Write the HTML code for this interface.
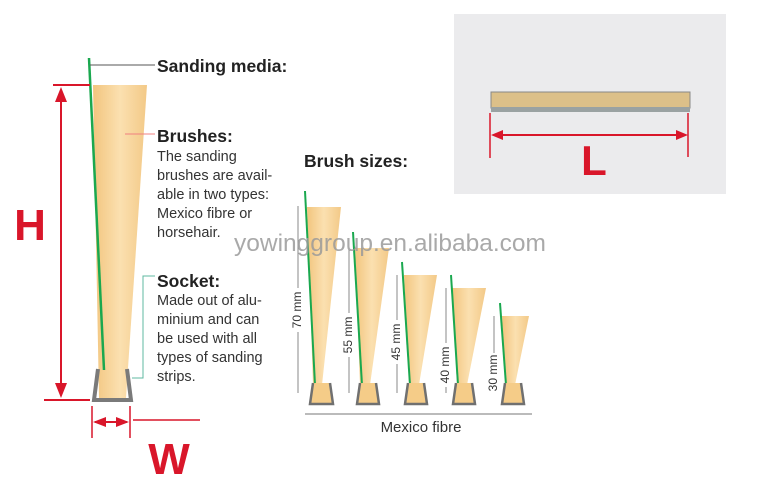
<!DOCTYPE html>
<html><head><meta charset="utf-8"><style>
html,body{margin:0;padding:0;background:#fff;}
svg{display:block;font-family:"Liberation Sans",sans-serif;}
</style></head><body>
<svg width="779" height="488" viewBox="0 0 779 488" xmlns="http://www.w3.org/2000/svg">
<defs>
<linearGradient id="br" x1="0" x2="1" y1="0" y2="0">
<stop offset="0" stop-color="#f2c57e"/><stop offset="0.5" stop-color="#fbe0b0"/><stop offset="1" stop-color="#f3c987"/>
</linearGradient>
</defs>
<!-- photo -->
<rect x="454" y="14" width="272" height="180" fill="#ebebed"/>
<rect x="491" y="92" width="199" height="16" fill="#dcc089" stroke="#888" stroke-width="1"/>
<rect x="491" y="107" width="199" height="5" fill="#9aa2a2"/>
<line x1="490" y1="113" x2="490" y2="158" stroke="#d9162a" stroke-width="1.5"/>
<line x1="688" y1="113" x2="688" y2="157" stroke="#d9162a" stroke-width="1.5"/>
<line x1="500" y1="135" x2="680" y2="135" stroke="#d9162a" stroke-width="2"/>
<path d="M491,135 l12,-5 v10 z M688,135 l-12,-5 v10 z" fill="#d9162a"/>
<text x="594" y="175" font-size="42" font-weight="bold" fill="#d9162a" text-anchor="middle">L</text>

<!-- main brush -->
<polygon points="93,85 147,85 126,398 99,398" fill="url(#br)"/>
<line x1="89" y1="58" x2="104" y2="370" stroke="#1aa84f" stroke-width="2.5"/>
<path d="M98,369 L94,400 L131,400 L127,369" fill="none" stroke="#7a7a7a" stroke-width="4"/>
<!-- H -->
<line x1="53" y1="85" x2="90" y2="85" stroke="#d9162a" stroke-width="2"/>
<line x1="44" y1="400" x2="90" y2="400" stroke="#d9162a" stroke-width="2"/>
<line x1="61" y1="92" x2="61" y2="393" stroke="#d9162a" stroke-width="2"/>
<path d="M61,87 l-6,15 h12 z M61,398 l-6,-15 h12 z" fill="#d9162a"/>
<text x="30" y="240" font-size="44" font-weight="bold" fill="#d9162a" text-anchor="middle">H</text>
<!-- W -->
<line x1="92" y1="406" x2="92" y2="438" stroke="#d9162a" stroke-width="1.5"/>
<line x1="130" y1="406" x2="130" y2="438" stroke="#d9162a" stroke-width="1.5"/>
<line x1="133" y1="420" x2="200" y2="420" stroke="#d9162a" stroke-width="1.5"/>
<line x1="95" y1="422" x2="127" y2="422" stroke="#d9162a" stroke-width="2"/>
<path d="M93,422 l13,-5 v10 z M129,422 l-13,-5 v10 z" fill="#d9162a"/>
<text x="169" y="474" font-size="44" font-weight="bold" fill="#d9162a" text-anchor="middle">W</text>

<!-- labels -->
<line x1="90" y1="65" x2="155" y2="65" stroke="#555" stroke-width="1"/>
<text x="157" y="72" font-size="17.5" font-weight="bold" fill="#222">Sanding media:</text>
<line x1="125" y1="134" x2="155" y2="134" stroke="#f08080" stroke-width="1"/>
<text x="157" y="142" font-size="17.5" font-weight="bold" fill="#222">Brushes:</text>
<g font-size="14.5" fill="#333">
<text x="157" y="161">The sanding</text>
<text x="157" y="180">brushes are avail-</text>
<text x="157" y="199">able in two types:</text>
<text x="157" y="218">Mexico fibre or</text>
<text x="157" y="237">horsehair.</text>
</g>
<polyline points="155,276 143,276 143,378 132,378" fill="none" stroke="#5fb8a0" stroke-width="1"/>
<text x="157" y="287" font-size="17.5" font-weight="bold" fill="#222">Socket:</text>
<g font-size="14.5" fill="#333">
<text x="157" y="305">Made out of alu-</text>
<text x="157" y="324">minium and can</text>
<text x="157" y="343">be used with all</text>
<text x="157" y="362">types of sanding</text>
<text x="157" y="381">strips.</text>
</g>

<text x="304" y="167" font-size="17.5" font-weight="bold" fill="#222">Brush sizes:</text>

<!-- mini brushes -->
<g>
<polygon points="307,207 341,207 322,385 313,385" fill="url(#br)"/>
<line x1="305" y1="191" x2="315" y2="385" stroke="#1aa84f" stroke-width="2"/>
<path d="M313,383 L310,404 L333,404 L330,383" fill="#f5cc88" stroke="#707070" stroke-width="2.5"/>
<line x1="298" y1="206" x2="298" y2="288" stroke="#888"/><line x1="298" y1="332" x2="298" y2="393" stroke="#888"/>
<text transform="translate(297,310) rotate(-90)" font-size="12" fill="#333" text-anchor="middle" dy="4">70 mm</text>

<polygon points="355,248 389,248 370,385 360,385" fill="url(#br)"/>
<line x1="353" y1="232" x2="362" y2="385" stroke="#1aa84f" stroke-width="2"/>
<path d="M360,383 L357,404 L379,404 L376,383" fill="#f5cc88" stroke="#707070" stroke-width="2.5"/>
<line x1="349" y1="250" x2="349" y2="313" stroke="#888"/><line x1="349" y1="357" x2="349" y2="393" stroke="#888"/>
<text transform="translate(348,335) rotate(-90)" font-size="12" fill="#333" text-anchor="middle" dy="4">55 mm</text>

<polygon points="404,275 437,275 419,385 409,385" fill="url(#br)"/>
<line x1="402" y1="262" x2="410" y2="385" stroke="#1aa84f" stroke-width="2"/>
<path d="M408,383 L405,404 L427,404 L424,383" fill="#f5cc88" stroke="#707070" stroke-width="2.5"/>
<line x1="397" y1="275" x2="397" y2="320" stroke="#888"/><line x1="397" y1="364" x2="397" y2="393" stroke="#888"/>
<text transform="translate(396,342) rotate(-90)" font-size="12" fill="#333" text-anchor="middle" dy="4">45 mm</text>

<polygon points="452,288 486,288 467,385 457,385" fill="url(#br)"/>
<line x1="451" y1="275" x2="458" y2="385" stroke="#1aa84f" stroke-width="2"/>
<path d="M456,383 L453,404 L475,404 L472,383" fill="#f5cc88" stroke="#707070" stroke-width="2.5"/>
<line x1="446" y1="288" x2="446" y2="343" stroke="#888"/><line x1="446" y1="387" x2="446" y2="393" stroke="#888"/>
<text transform="translate(445,365) rotate(-90)" font-size="12" fill="#333" text-anchor="middle" dy="4">40 mm</text>

<polygon points="502,316 529,316 515,385 506,385" fill="url(#br)"/>
<line x1="500" y1="303" x2="506" y2="385" stroke="#1aa84f" stroke-width="2"/>
<path d="M505,383 L502,404 L524,404 L521,383" fill="#f5cc88" stroke="#707070" stroke-width="2.5"/>
<line x1="494" y1="316" x2="494" y2="353" stroke="#888"/>
<text transform="translate(493,373) rotate(-90)" font-size="12" fill="#333" text-anchor="middle" dy="4">30 mm</text>
</g>
<line x1="305" y1="414" x2="532" y2="414" stroke="#777"/>
<text x="421" y="432" font-size="15" fill="#333" text-anchor="middle">Mexico fibre</text>

<text x="390" y="251" font-size="24.5" fill="#9a9a9a" fill-opacity="0.85" text-anchor="middle">yowinggroup.en.alibaba.com</text>
</svg>
</body></html>
